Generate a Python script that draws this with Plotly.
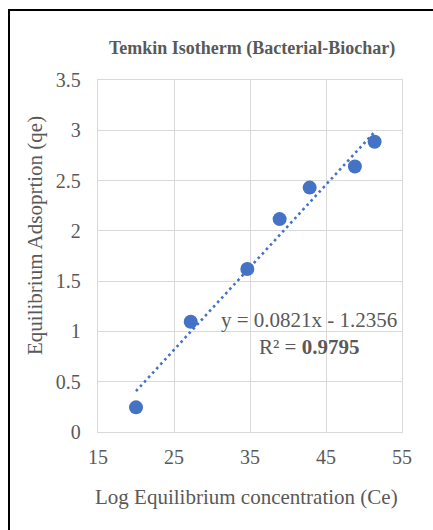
import plotly.graph_objects as go

# Temkin isotherm data for the bacterial biochar
log_ce = [20.0, 27.2, 34.65, 38.9, 42.85, 48.8, 51.4]
qe = [0.245, 1.096, 1.62, 2.117, 2.43, 2.64, 2.886]

# Linear fit reported on the chart
slope = 0.0821
intercept = -1.2356
r_squared = 0.9795

x_ticks = [15, 25, 35, 45, 55]
y_ticks = [0, 0.5, 1, 1.5, 2, 2.5, 3, 3.5]

W, H = 433, 530
L, R, T, B = 98, 31, 80, 98
pw, ph = W - L - R, H - T - B

def px_x(p):
    return (p - L) / pw

def px_y(p):
    return (H - B - p) / ph

grey = "#595959"
blue = "#4472C4"
font = "Liberation Serif"

fit_x = [min(log_ce), max(log_ce)]
fit_y = [slope * v + intercept for v in fit_x]

fig = go.Figure()
fig.add_trace(go.Scatter(
    x=fit_x, y=fit_y, mode="lines",
    line=dict(color=blue, width=2.6, dash="2.6px,3.4px"),
    hoverinfo="skip", showlegend=False,
))
fig.add_trace(go.Scatter(
    x=log_ce, y=qe, mode="markers",
    marker=dict(color=blue, size=14, line=dict(width=0)),
    showlegend=False,
))

axis_common = dict(
    showgrid=True, gridcolor="#D9D9D9", gridwidth=1.3,
    showline=True, linecolor="#D9D9D9", linewidth=1.3, mirror=True,
    zeroline=False, ticks="",
    tickfont=dict(family=font, size=20, color=grey),
)

fig.update_layout(
    width=W, height=H,
    margin=dict(l=L, r=R, t=T, b=B),
    paper_bgcolor="white", plot_bgcolor="white",
    xaxis=dict(range=[15, 55], tickvals=x_ticks, ticktext=[str(v) for v in x_ticks],
               ticklabelstandoff=7, **axis_common),
    yaxis=dict(range=[0, 3.5], tickvals=y_ticks, ticktext=[f"{v:g}" for v in y_ticks],
               ticklabelstandoff=12, **axis_common),
    showlegend=False,
)

fig.add_annotation(
    text="<b>Temkin Isotherm (Bacterial-Biochar)</b>",
    xref="paper", yref="paper", x=px_x(252), y=px_y(49),
    xanchor="center", yanchor="middle", showarrow=False,
    font=dict(family=font, size=18, color=grey),
)
fig.add_annotation(
    text="Log Equilibrium concentration (Ce)",
    xref="paper", yref="paper", x=px_x(246), y=px_y(497),
    xanchor="center", yanchor="middle", showarrow=False,
    font=dict(family=font, size=21, color=grey),
)
fig.add_annotation(
    text="Equilibrium Adsoprtion (qe)",
    xref="paper", yref="paper", x=px_x(35), y=px_y(236),
    xanchor="center", yanchor="middle", showarrow=False, textangle=-90,
    font=dict(family=font, size=21, color=grey),
)
fig.add_annotation(
    text=f"y = {slope}x - {abs(intercept)}<br>R² = <b>{r_squared}</b>",
    xref="paper", yref="paper", x=px_x(309), y=px_y(333),
    xanchor="center", yanchor="middle", showarrow=False, align="center",
    font=dict(family=font, size=21, color=grey),
)

# Outer frame around the chart
fig.add_shape(
    type="rect", xref="paper", yref="paper",
    x0=px_x(9), x1=px_x(440), y0=px_y(540), y1=px_y(10),
    line=dict(color="black", width=2), fillcolor="rgba(0,0,0,0)",
    layer="above",
)

fig.write_html("out.html")
